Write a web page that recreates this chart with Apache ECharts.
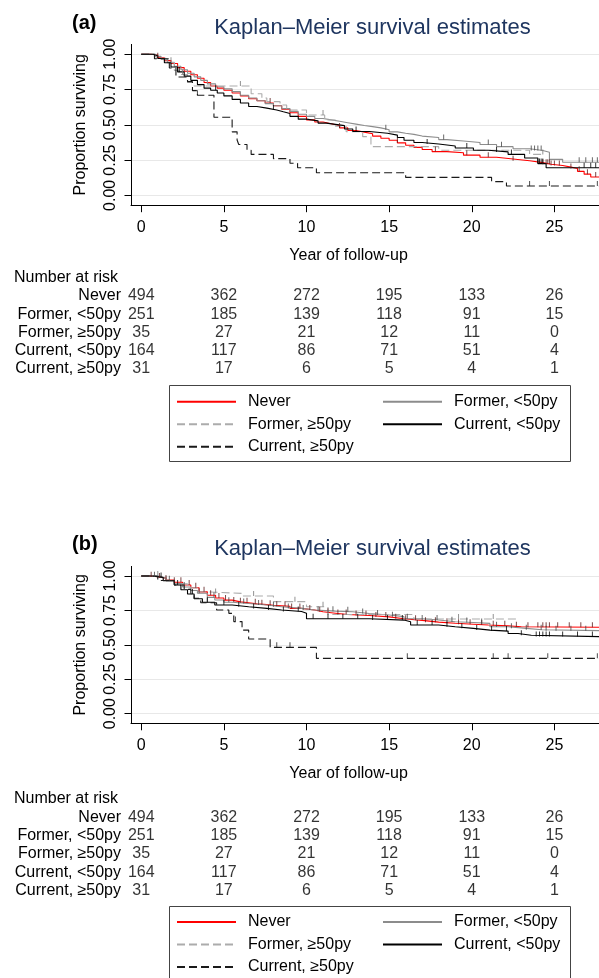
<!DOCTYPE html>
<html><head><meta charset="utf-8">
<script src="https://cdn.jsdelivr.net/npm/echarts@6/dist/echarts.min.js"></script>
<style>html,body{margin:0;padding:0;background:#fff}#c{width:599px;height:978px}</style>
</head><body><div id="c"></div>
<script>
// ---------- data ----------
const groups = ['Never', 'Former, <50py', 'Former, ≥50py', 'Current, <50py', 'Current, ≥50py'];
const xTicks = [0, 5, 10, 15, 20, 25];
const yTicks = [0, 0.25, 0.5, 0.75, 1];
const riskTimes = [0, 5, 10, 15, 20, 25];
const riskNever = [494, 362, 272, 195, 133, 26];
const riskFormerLo = [251, 185, 139, 118, 91, 15];
const riskFormerHi = [35, 27, 21, 12, 11, 0];
const riskCurrentLo = [164, 117, 86, 71, 51, 4];
const riskCurrentHi = [31, 17, 6, 5, 4, 1];

// panel (a) KM curves [time, survival]
const aNever = [[0,1],[0.6,.995],[1,.975],[1.4,.955],[1.8,.935],[2.2,.905],[2.6,.88],[3,.855],[3.4,.83],[3.8,.8],[4.2,.775],[4.6,.76],[5,.745],[5.5,.725],[6,.705],[6.5,.685],[7,.67],[7.5,.655],[8,.635],[8.5,.61],[9,.585],[9.5,.56],[10,.535],[10.5,.52],[11,.508],[11.5,.495],[12,.478],[12.5,.46],[13,.448],[13.5,.437],[14,.42],[14.5,.405],[15,.39],[15.5,.372],[16,.355],[16.5,.34],[17,.325],[17.6,.31],[18.5,.302],[19.5,.285],[20.5,.27],[21.5,.258],[22.5,.245],[23.5,.232],[24.3,.22],[24.8,.212],[25.5,.2],[26,.19],[26.4,.17],[26.8,.15],[27.2,.13],[27.7,.13]];
const aFormerLo = [[0,1],[0.8,.985],[1.2,.965],[1.6,.94],[2,.915],[2.4,.89],[2.8,.865],[3.2,.84],[3.6,.815],[4,.79],[4.5,.77],[5,.755],[5.5,.735],[6,.71],[6.5,.69],[7,.67],[7.5,.65],[8,.635],[8.5,.615],[9,.595],[9.5,.575],[10,.56],[10.5,.545],[11,.535],[11.5,.525],[12,.515],[12.5,.505],[13,.495],[13.5,.487],[14,.478],[14.5,.465],[15,.45],[15.5,.44],[16,.432],[16.5,.42],[17,.41],[18,.395],[18.5,.385],[19.5,.375],[20.5,.36],[21.5,.345],[22.5,.33],[23.5,.318],[24.3,.305],[24.7,.255],[25.5,.235],[27.7,.235]];
const aFormerHi = [[0,1],[0.9,.971],[1.5,.943],[2,.886],[2.3,.857],[2.8,.8],[3.2,.775],[6.65,.72],[7.3,.69],[7.6,.664],[8.4,.64],[8.8,.605],[10,.57],[11.1,.534],[11.75,.49],[12.4,.451],[13.4,.416],[13.9,.345],[18,.32],[23.5,.29],[24.3,.29]];
const aCurrentLo = [[0,1],[0.7,.99],[1,.97],[1.4,.94],[1.8,.91],[2.2,.875],[2.6,.845],[3,.815],[3.4,.785],[3.8,.76],[4.2,.745],[4.6,.725],[5,.705],[5.5,.68],[6,.655],[6.5,.63],[7,.618],[7.6,.605],[8.2,.592],[8.6,.58],[9,.56],[9.5,.54],[10,.528],[10.7,.512],[11.2,.503],[11.75,.494],[12.3,.47],[12.8,.452],[13.8,.44],[14.9,.427],[15.5,.41],[15.9,.39],[16.5,.375],[17,.364],[18,.35],[19,.335],[20.1,.32],[21,.308],[22.2,.29],[23.2,.265],[24,.225],[24.5,.196],[27.7,.196]];
const aCurrentHi = [[0,1],[0.8,.968],[1.7,.903],[2.1,.839],[2.8,.806],[3.1,.742],[3.4,.71],[4.4,.553],[5.5,.45],[5.8,.392],[5.9,.36],[6.4,.32],[6.65,.29],[8,.26],[9,.227],[9.46,.196],[10.6,.16],[16,.127],[21.2,.097],[22.1,.066],[27.7,.066]];
// panel (a) censoring times
const aNeverCens = [1.0,7.8,12.0,15.5,17.8,19.7,21.0,22.5,24.3,24.5,24.6,24.7,24.8,25.0,25.3,26.0,26.5,27.0,27.5];
const aFormerLoCens = [14.8,18.3,21.0,21.8,23.6,23.8,24.0,24.2,26.5,26.9,27.3,27.6];
const aFormerHiCens = [1.8,2.5,6.0,11.0,24.3];
const aCurrentLoCens = [2.3,4.5,8.0,13.0,17.3,19.7,21.5,22.4,24.0,24.1,24.2,24.3,26.8,27.2,27.5];
const aCurrentHiCens = [3.4,23.5,24.7,27.6];

// panel (b) KM curves
const bNever = [[0,1],[0.5,.995],[1,.985],[1.5,.97],[2,.955],[2.5,.935],[3,.915],[3.5,.885],[4,.86],[4.5,.84],[5,.825],[5.5,.812],[6,.805],[6.5,.798],[7,.792],[7.6,.787],[8,.78],[9,.765],[9.7,.753],[10.5,.74],[11,.73],[11.75,.72],[12.5,.713],[13.8,.703],[15,.69],[15.9,.678],[17,.665],[18,.657],[19,.65],[20.1,.644],[21,.638],[22.2,.632],[23,.628],[27.7,.628]];
const bFormerLo = [[0,1],[0.6,.995],[1,.985],[1.5,.965],[2,.945],[2.5,.92],[3,.895],[3.4,.875],[4,.845],[4.45,.826],[5,.81],[5.5,.8],[6.5,.79],[7.6,.777],[8.5,.765],[9.7,.753],[10.5,.745],[11.75,.74],[12.8,.728],[13.8,.717],[15,.705],[15.9,.69],[17,.68],[18,.668],[19,.662],[20.1,.656],[21.1,.632],[22.2,.62],[23.3,.61],[24.25,.603],[27.7,.603]];
const bFormerHi = [[0,1],[1.5,.971],[2,.943],[2.8,.914],[3.4,.886],[3.8,.874],[6.1,.855],[8,.814],[10,.777],[11.3,.72],[16.5,.688],[22.7,.688]];
const bCurrentLo = [[0,1],[0.7,.99],[1.33,.966],[2,.935],[2.4,.9],[2.8,.87],[3.2,.835],[3.7,.81],[4.45,.79],[5.5,.777],[6.5,.765],[7.6,.753],[8.5,.742],[9.7,.73],[10,.69],[13.8,.68],[15.9,.668],[16.3,.644],[18,.632],[19,.62],[20.1,.607],[21.1,.6],[22.2,.583],[22.8,.57],[23.6,.56],[27.7,.56]];
const bCurrentHi = [[0,1],[1,.968],[2,.935],[2.6,.903],[3,.871],[3.2,.839],[3.6,.806],[4.56,.753],[5.3,.729],[5.6,.669],[6.1,.607],[6.5,.542],[7.8,.482],[10.6,.402],[27.7,.402]];
// panel (b) censoring times
const bNeverCens = [0.6,1.1,1.5,2.0,2.4,2.9,3.3,3.8,4.2,4.7,5.1,5.6,6.0,6.4,6.9,7.3,7.8,8.2,8.7,9.1,9.6,10.2,10.8,11.3,11.9,12.4,13.0,13.6,14.2,14.8,15.4,16.0,16.6,17.2,17.8,18.5,19.2,19.9,20.6,21.3,22.0,22.7,23.4,24.0,24.3,24.5,24.7,25.2,25.9,26.6,27.3];
const bFormerLoCens = [0.8,1.7,2.6,3.5,4.4,5.3,6.2,7.1,8.0,8.9,9.8,10.7,11.6,12.5,13.4,14.3,15.2,16.1,17.0,17.9,18.8,19.7,20.6,21.5,22.4,23.3,24.2,24.5,25.1,26.0,26.9];
const bFormerHiCens = [1.0,4.5,6.8,9.3,11.0,19.2,21.3];
const bCurrentLoCens = [1.2,2.2,3.1,4.0,5.0,5.9,6.8,7.7,8.6,9.5,10.4,11.3,12.2,13.1,14.0,14.9,15.8,16.7,17.6,18.5,19.4,20.3,21.2,22.1,23.0,23.9,24.1,24.3,24.5,24.7,25.5,26.4,27.3];
const bCurrentHiCens = [4.0,5.7,8.2,9.0,16.1,21.3,22.2,24.6,27.6];

// ---------- styles / layout ----------
const FONT = 'Liberation Sans, Arial, Helvetica, sans-serif';
const styles = [
  {color: '#ff0000', type: 'solid', width: 1.1},
  {color: '#8c8c8c', type: 'solid', width: 1.1},
  {color: '#acacac', type: [8, 4], width: 1.1},
  {color: '#000000', type: 'solid', width: 1.1},
  {color: '#1a1a1a', type: [8, 4], width: 1.1}
];
const tickColors = ['#5a1a1a', '#444', '#777', '#000', '#222'];
const XMIN = -0.62, XMAX = 27.7;
const panels = [
  {curves: [aNever, aFormerLo, aFormerHi, aCurrentLo, aCurrentHi],
   cens: [aNeverCens, aFormerLoCens, aFormerHiCens, aCurrentLoCens, aCurrentHiCens],
   plotTop: 44.4, plotH: 160.8, tabTop: 287, tabH: 90.6,
   label: '(a)', labelY: 23, titleY: 28, xtitleY: 256, narY: 278, boxTop: 385, legTop: 393.7},
  {curves: [bNever, bFormerLo, bFormerHi, bCurrentLo, bCurrentHi],
   cens: [bNeverCens, bFormerLoCens, bFormerHiCens, bCurrentLoCens, bCurrentHiCens],
   plotTop: 566.4, plotH: 156.9, tabTop: 808.2, tabH: 91.5,
   label: '(b)', labelY: 544, titleY: 549, xtitleY: 774, narY: 799, boxTop: 906, legTop: 914}
];
const riskRows = [riskNever, riskFormerLo, riskFormerHi, riskCurrentLo, riskCurrentHi];

function stepAt(curve, x) {
  let v = curve[0][1];
  for (const p of curve) { if (p[0] <= x) v = p[1]; else break; }
  return v;
}

const grid = [], xAxis = [], yAxis = [], series = [], legend = [], graphic = [];
panels.forEach((P, pi) => {
  const gPlot = grid.length;
  grid.push({left: 131, right: 0, top: P.plotTop, height: P.plotH});
  grid.push({left: 131, right: 0, top: P.tabTop, height: P.tabH});
  xAxis.push({
    type: 'value', gridIndex: gPlot, min: XMIN, max: XMAX,
    axisLine: {show: true, onZero: false, lineStyle: {color: '#000', width: 1}},
    axisTick: {show: true, customValues: xTicks, length: 7, lineStyle: {color: '#000'}},
    axisLabel: {show: true, customValues: xTicks, margin: 14, fontSize: 16, color: '#000', fontFamily: FONT},
    splitLine: {show: false}
  });
  xAxis.push({type: 'value', gridIndex: gPlot + 1, min: XMIN, max: XMAX, show: false});
  yAxis.push({
    type: 'value', gridIndex: gPlot, min: -0.07, max: 1.07,
    name: 'Proportion surviving', nameLocation: 'middle', nameGap: 42,
    nameTextStyle: {fontSize: 16, color: '#000', fontFamily: FONT},
    axisLine: {show: true, onZero: false, lineStyle: {color: '#000', width: 1}},
    axisTick: {show: true, customValues: yTicks, length: 6.5, lineStyle: {color: '#000'}},
    axisLabel: {show: true, customValues: yTicks, rotate: 90, margin: 12, fontSize: 16, color: '#000',
      fontFamily: FONT, formatter: v => v.toFixed(2)},
    splitLine: {show: true, lineStyle: {color: '#e8e8e8', width: 1}}
  });
  yAxis.push({
    type: 'category', gridIndex: gPlot + 1, data: groups, inverse: true,
    axisLine: {show: false}, axisTick: {show: false}, splitLine: {show: false},
    axisLabel: {interval: 0, margin: 10, fontSize: 16, color: '#000', fontFamily: FONT}
  });
  P.curves.forEach((curve, g) => {
    series.push({
      type: 'line', name: groups[g], xAxisIndex: gPlot, yAxisIndex: gPlot,
      data: curve, step: 'end', symbol: 'none', showSymbol: false, clip: true,
      lineStyle: {color: styles[g].color, width: styles[g].width, type: styles[g].type},
      itemStyle: {color: styles[g].color}, silent: true, z: 2 + g * 0.01
    });
  });
  P.cens.forEach((ct, g) => {
    series.push({
      type: 'scatter', name: groups[g] + ' censored ' + pi, xAxisIndex: gPlot, yAxisIndex: gPlot,
      data: ct.map(t => [t, stepAt(P.curves[g], t)]),
      symbol: 'rect', symbolSize: [1, 5], symbolOffset: [0, -2.5],
      itemStyle: {color: tickColors[g]}, silent: true, z: 3
    });
  });
  riskRows.forEach((row, r) => {
    series.push({
      type: 'scatter', name: 'risk ' + r + ' ' + pi, xAxisIndex: gPlot + 1, yAxisIndex: gPlot + 1,
      data: riskTimes.map((t, i) => [t, groups[r], row[i]]),
      symbolSize: 1, itemStyle: {color: 'rgba(0,0,0,0)'}, silent: true,
      label: {show: true, position: 'inside', formatter: p => String(p.data[2]),
        fontSize: 16, color: '#000', fontFamily: FONT}
    });
  });
  const legCommon = {orient: 'vertical', padding: 0, itemWidth: 59, itemHeight: 16, itemGap: 6.5,
    selectedMode: false, top: P.legTop,
    itemStyle: {opacity: 0, borderWidth: 0},
    textStyle: {fontSize: 16, color: '#000', fontFamily: FONT, lineHeight: 16, padding: [0, 0, 0, 7]}};
  legend.push(Object.assign({}, legCommon, {left: 176, data: [groups[0], groups[2], groups[4]]}));
  legend.push(Object.assign({}, legCommon, {left: 382, data: [groups[1], groups[3]]}));
  graphic.push(
    {type: 'rect', shape: {x: 169.5, y: P.boxTop + 0.5, width: 401, height: 76},
     style: {fill: 'none', stroke: '#444', lineWidth: 1}, silent: true, z: 0},
    {type: 'text', x: 72, y: P.labelY, style: {text: P.label, font: 'bold 20px ' + FONT, fill: '#000',
      textAlign: 'left', textVerticalAlign: 'middle'}},
    {type: 'text', x: 372.5, y: P.titleY, style: {text: 'Kaplan–Meier survival estimates',
      font: '22px ' + FONT, fill: '#1f3660', textAlign: 'center', textVerticalAlign: 'middle'}},
    {type: 'text', x: 348.6, y: P.xtitleY, style: {text: 'Year of follow-up', font: '16px ' + FONT,
      fill: '#000', textAlign: 'center', textVerticalAlign: 'middle'}},
    {type: 'text', x: 14, y: P.narY, style: {text: 'Number at risk', font: '16px ' + FONT,
      fill: '#000', textAlign: 'left', textVerticalAlign: 'middle'}}
  );
});

const chart = echarts.init(document.getElementById('c'), null, {renderer: 'canvas'});
chart.setOption({
  animation: false, backgroundColor: '#fff',
  textStyle: {fontFamily: FONT},
  grid, xAxis, yAxis, series, legend, graphic
});
</script></body></html>
